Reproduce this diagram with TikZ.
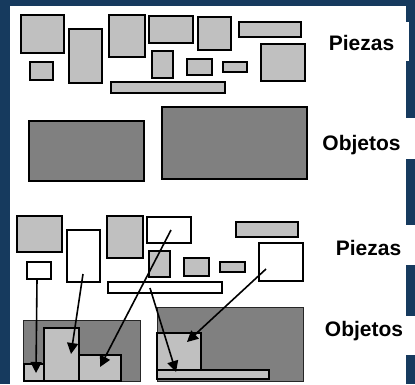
\documentclass[tikz,border=0pt]{standalone}
\usepackage{fontspec}
\setmainfont{Liberation Sans}
\usetikzlibrary{arrows.meta}
\definecolor{bgblue}{RGB}{22,58,94}
\definecolor{lgray}{RGB}{192,192,192}
\definecolor{dgray}{RGB}{128,128,128}
% rectangle node given by its two corners
\newcommand\pc[6]{\node[#2, minimum width={(#5-#3)*1pt}, minimum height={(#6-#4)*1pt}] (#1) at ({(#3+#5)/2},{(#4+#6)/2}) {};}
\tikzset{
  box/.style={inner sep=0pt, outer sep=0pt, rectangle},
  piece/.style={box, fill=lgray, draw=black, line width=2.6pt},
  thinpiece/.style={box, fill=lgray, draw=black, line width=1.3pt},
  freepiece/.style={box, fill=white, draw=black, line width=2.6pt},
  object/.style={box, fill=dgray, draw=black, line width=2.2pt},
  holder/.style={box, fill=dgray, draw=black!85, line width=1pt},
  labelbox/.style={box, fill=white},
  lbl/.style={font=\bfseries\fontsize{21}{21}\selectfont, inner sep=0pt, anchor=base},
  move/.style={line width=1.6pt, -{Triangle[length=11pt,width=11pt]}},
}
\begin{document}
\begin{tikzpicture}[x=1pt, y=-1pt]
\useasboundingbox (0,0) rectangle (415,384);
\fill[bgblue] (0,0) rectangle (415,384);
\fill[white] (10,6) rectangle (406,384);

% label panels
\pc{lb1}{labelbox}{313}{22}{409}{61}
\pc{lb2}{labelbox}{315}{118}{416}{159}
\pc{lb3}{labelbox}{320}{225}{416}{265}
\pc{lb4}{labelbox}{313}{316}{416}{355}
\node[lbl] (t1) at (361.5,50) {Piezas};
\node[lbl] (t2) at (361.5,150) {Objetos};
\node[lbl] (t3) at (368.5,255) {Piezas};
\node[lbl] (t4) at (364,336.5) {Objetos};

% loose pieces
\pc{a1}{piece}{21}{15}{64}{53}
\pc{a2}{piece}{69}{29}{102}{83}
\pc{a3}{piece}{109}{15}{145}{57}
\pc{a4}{piece}{149}{16}{193}{43}
\pc{a5}{piece}{198}{17}{231}{50}
\pc{a6}{thinpiece}{239}{22}{301}{37}
\pc{a7}{piece}{261}{44}{305}{81}
\pc{a8}{piece}{30}{62}{53}{80}
\pc{a9}{piece}{152}{51}{173}{78}
\pc{a10}{piece}{187}{59}{212}{75}
\pc{a11}{piece}{223}{62}{247}{72}
\pc{a12}{piece}{111}{82}{225}{93}

% empty objects
\pc{o1}{object}{29}{121}{144}{181}
\pc{o2}{object}{162}{107}{307}{179}

% pieces after packing
\pc{b1}{piece}{17}{216}{62}{252}
\pc{b2}{freepiece}{67}{230}{100}{282}
\pc{b3}{piece}{107}{216}{143}{258}
\pc{b4}{freepiece}{147}{217}{191}{243}
\pc{b5}{thinpiece}{236}{222}{298}{237}
\pc{b6}{freepiece}{259}{243}{303}{281}
\pc{b7}{freepiece}{27}{262}{51}{279}
\pc{b8}{piece}{149}{251}{170}{277}
\pc{b9}{piece}{184}{258}{209}{276}
\pc{b10}{piece}{220}{262}{245}{272}
\pc{b11}{freepiece}{108}{282}{222}{293}

% filled objects
\pc{c1}{holder}{23}{320}{140}{381}
\pc{c1a}{thinpiece}{24}{364}{44}{381}
\pc{c1b}{piece}{44}{328}{79}{381}
\pc{c1c}{piece}{79}{355}{121}{381}
\pc{c2}{holder}{157}{307}{303}{381}
\pc{c2a}{piece}{157}{333}{201}{370}
\pc{c2b}{thinpiece}{157}{370}{269}{379}

% arrow ends
\coordinate (s1) at (37,279);  \coordinate (e1) at (36,373);
\coordinate (s2) at (83,274);  \coordinate (e2) at (71,354);
\coordinate (s3) at (171,230); \coordinate (e3) at (100,367);
\coordinate (s4) at (150,288); \coordinate (e4) at (176,372);
\coordinate (s5) at (266,269); \coordinate (e5) at (187,342);

\draw[move] (s1) -- (e1);
\draw[move] (s2) -- (e2);
\draw[move] (s3) -- (e3);
\draw[move] (s4) -- (e4);
\draw[move] (s5) -- (e5);
\end{tikzpicture}
\end{document}
